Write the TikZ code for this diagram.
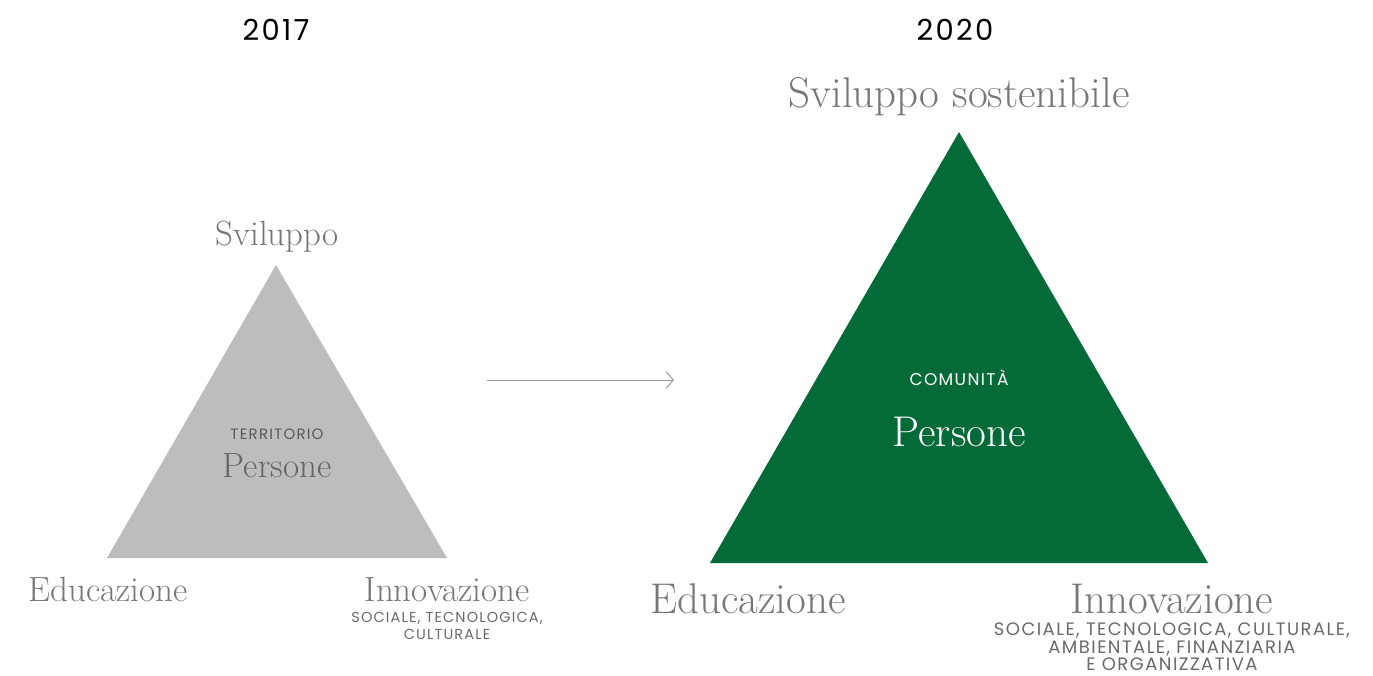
\documentclass[tikz,border=0pt]{standalone}
\usepackage{fontspec}
\newfontfamily\gsans[LetterSpace=8]{Poppins}
\usetikzlibrary{arrows.meta}
\definecolor{trigray}{HTML}{BDBDBD}
\definecolor{trigreen}{HTML}{046A38}
\definecolor{serifgray}{HTML}{777777}
\definecolor{sansgray}{HTML}{6A6A6A}
\definecolor{arrowgray}{HTML}{9A9A9A}
\tikzset{
  year/.style={anchor=base, inner sep=0pt, font=\gsans\fontsize{29}{32}\selectfont, text=black},
  bigserif/.style={anchor=base, inner sep=0pt, font=\fontsize{43}{46}\selectfont, text=serifgray},
  smallserif/.style={anchor=base, inner sep=0pt, font=\fontsize{35}{38}\selectfont, text=serifgray},
  capsbig/.style={anchor=base, inner sep=0pt, font=\gsans\fontsize{18}{20}\selectfont, text=sansgray},
  capssmall/.style={anchor=base, inner sep=0pt, font=\gsans\fontsize{14.5}{16}\selectfont, text=sansgray},
  linkarrow/.style={draw=arrowgray, line width=1pt, -{Straight Barb[length=7pt,width=16pt,line width=1pt]}}
}
\begin{document}
\begin{tikzpicture}[x=1pt,y=-1pt]
\useasboundingbox (0,0) rectangle (1373,675);
% triangles
\coordinate (gA) at (276,265);
\coordinate (gL) at (107,558);
\coordinate (gR) at (447,558);
\fill[trigray] (gA) -- (gL) -- (gR) -- cycle;
\coordinate (vA) at (959,132);
\coordinate (vL) at (710,563);
\coordinate (vR) at (1208,563);
\fill[trigreen] (vA) -- (vL) -- (vR) -- cycle;
% years
\node[year] (y1) at (276,40) {2017};
\node[year] (y2) at (955,40) {2020};
% 2017 labels
\node[smallserif] (sv1) at (277,245) {Sviluppo};
\node[capssmall, font=\gsans\fontsize{15}{16}\selectfont, text=black!65] (terr) at (277,439) {TERRITORIO};
\node[smallserif, text=black!60] (pers1) at (277,477) {Persone};
\node[smallserif] (edu1) at (108,601) {Educazione};
\node[smallserif] (inn1) at (447,601) {Innovazione};
\node[capssmall] (inn1a) at (447,622) {SOCIALE, TECNOLOGICA,};
\node[capssmall] (inn1b) at (447,639) {CULTURALE};
% arrow
\coordinate (arS) at (487,380);
\coordinate (arE) at (674,380);
\draw[linkarrow] (arS) -- (arE);
% 2020 labels
\node[bigserif] (sv2) at (959,107) {Sviluppo sostenibile};
\node[capsbig, font=\gsans\fontsize{17}{18}\selectfont, text=white] (com) at (959,385) {COMUNITÀ};
\node[bigserif, text=white] (pers2) at (959,446) {Persone};
\node[bigserif] (edu2) at (748,613) {Educazione};
\node[bigserif] (inn2) at (1172,613) {Innovazione};
\node[capsbig] (inn2a) at (1172,635) {SOCIALE, TECNOLOGICA, CULTURALE,};
\node[capsbig] (inn2b) at (1172,653) {AMBIENTALE, FINANZIARIA};
\node[capsbig] (inn2c) at (1172,670) {E ORGANIZZATIVA};
\end{tikzpicture}
\end{document}
